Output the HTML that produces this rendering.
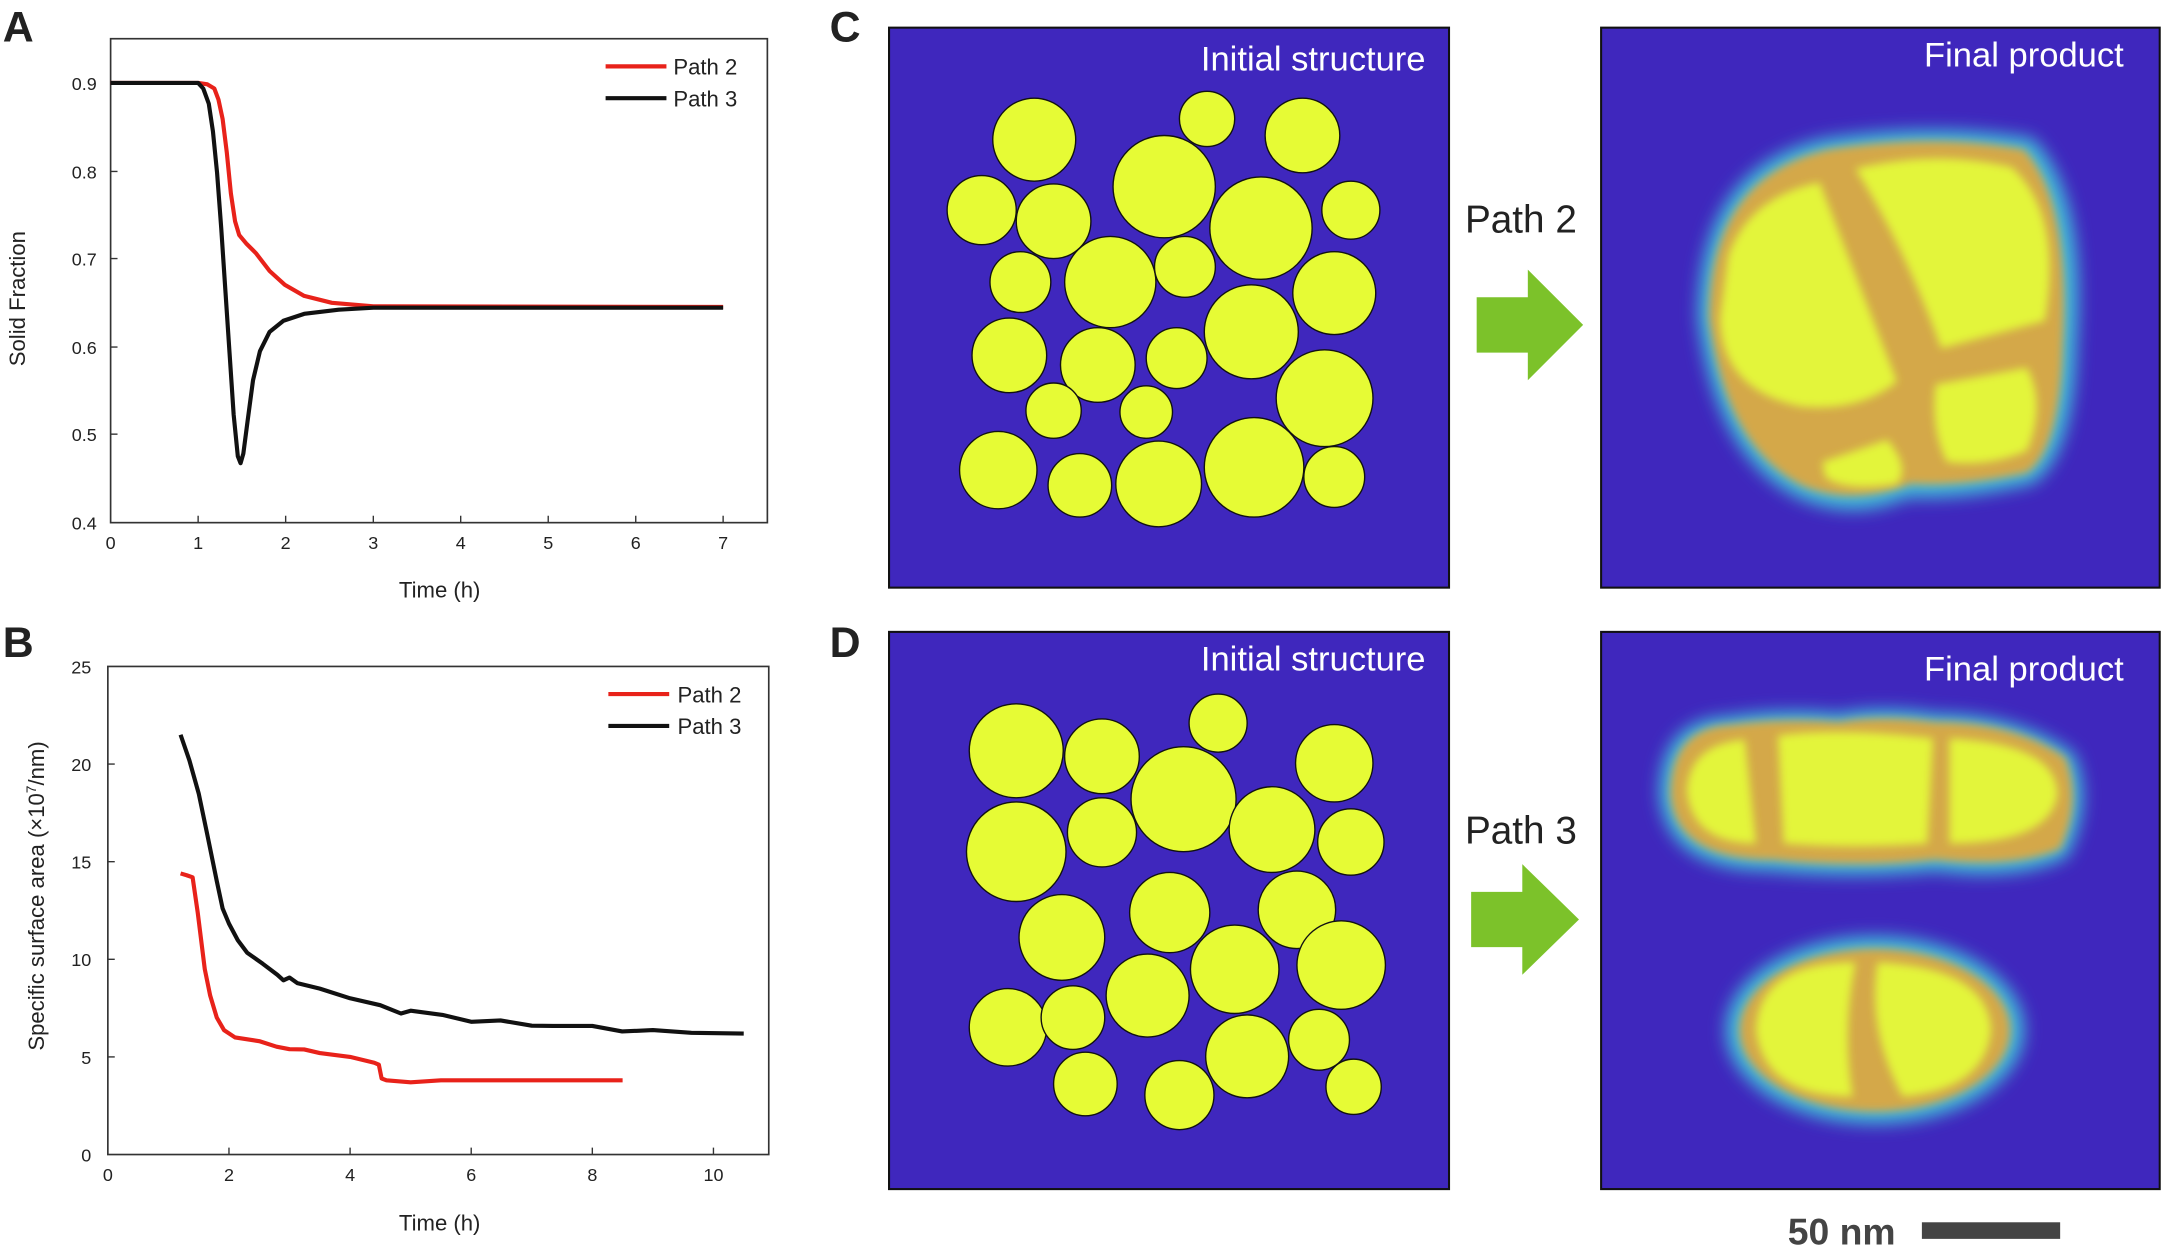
<!DOCTYPE html>
<html><head><meta charset="utf-8"><style>
html,body{margin:0;padding:0;background:#fff}
svg{display:block}
text{font-family:"Liberation Sans",sans-serif;fill:#222}
</style></head><body>
<svg width="2168" height="1248" viewBox="0 0 1568 902.6" preserveAspectRatio="none" xmlns="http://www.w3.org/2000/svg">
<defs>
<filter id="b6" x="-30%" y="-30%" width="160%" height="160%"><feGaussianBlur stdDeviation="6"/></filter>
<filter id="b3" x="-30%" y="-30%" width="160%" height="160%"><feGaussianBlur stdDeviation="3"/></filter>
</defs>
<g font-weight="bold" font-size="31">
<text x="2" y="30">A</text><text x="2" y="475">B</text>
<text x="600" y="30">C</text><text x="600" y="475">D</text>
</g>
<!-- Panel A -->
<rect x="80" y="28" width="475" height="350" fill="none" stroke="#333" stroke-width="1.2"/>
<g stroke="#333" stroke-width="1">
<line x1="80" y1="60" x2="85" y2="60"/><line x1="80" y1="124" x2="85" y2="124"/><line x1="80" y1="187" x2="85" y2="187"/><line x1="80" y1="251" x2="85" y2="251"/><line x1="80" y1="314" x2="85" y2="314"/>
<line x1="143.3" y1="378" x2="143.3" y2="373"/><line x1="206.6" y1="378" x2="206.6" y2="373"/><line x1="270" y1="378" x2="270" y2="373"/><line x1="333.2" y1="378" x2="333.2" y2="373"/><line x1="396.5" y1="378" x2="396.5" y2="373"/><line x1="459.8" y1="378" x2="459.8" y2="373"/><line x1="523" y1="378" x2="523" y2="373"/>
</g>
<g font-size="13" text-anchor="end">
<text x="70" y="65">0.9</text><text x="70" y="129">0.8</text><text x="70" y="192">0.7</text><text x="70" y="256">0.6</text><text x="70" y="319">0.5</text><text x="70" y="383">0.4</text>
</g>
<g font-size="13" text-anchor="middle">
<text x="80" y="397">0</text><text x="143.3" y="397">1</text><text x="206.6" y="397">2</text><text x="270" y="397">3</text><text x="333.2" y="397">4</text><text x="396.5" y="397">5</text><text x="459.8" y="397">6</text><text x="523" y="397">7</text>
</g>
<text x="318" y="432" font-size="16" text-anchor="middle">Time (h)</text>
<text transform="translate(18,216) rotate(-90)" font-size="16" text-anchor="middle">Solid Fraction</text>
<polyline fill="none" stroke="#e8221a" stroke-width="3" stroke-linejoin="round" points="80,60 143.3,60 150,61 155,64 158,72 161,86 164,110 167,140 170,160 173,170 178,176 185,183 195,196 206,206 220,214 240,219 270,221.5 523,222"/>
<polyline fill="none" stroke="#111" stroke-width="3" stroke-linejoin="round" points="80,60 143.3,60 147,64 151,75 154,95 157,125 160,165 163,210 166,255 169,300 172,330 174,335 176,328 179,305 183,275 188,254 195,240 205,232 220,227 245,224 270,222.5 523,222.5"/>
<line x1="438" y1="48" x2="482" y2="48" stroke="#e8221a" stroke-width="3"/>
<line x1="438" y1="71" x2="482" y2="71" stroke="#111" stroke-width="3"/>
<text x="487" y="54" font-size="16">Path 2</text><text x="487" y="77" font-size="16">Path 3</text>
<!-- Panel B -->
<rect x="78" y="482" width="478" height="353" fill="none" stroke="#333" stroke-width="1.2"/>
<g stroke="#333" stroke-width="1">
<line x1="78" y1="552.6" x2="83" y2="552.6"/><line x1="78" y1="623.2" x2="83" y2="623.2"/><line x1="78" y1="693.8" x2="83" y2="693.8"/><line x1="78" y1="764.4" x2="83" y2="764.4"/>
<line x1="165.6" y1="835" x2="165.6" y2="830"/><line x1="253.2" y1="835" x2="253.2" y2="830"/><line x1="340.8" y1="835" x2="340.8" y2="830"/><line x1="428.4" y1="835" x2="428.4" y2="830"/><line x1="516" y1="835" x2="516" y2="830"/>
</g>
<g font-size="13" text-anchor="end">
<text x="66" y="487">25</text><text x="66" y="557.6">20</text><text x="66" y="628.2">15</text><text x="66" y="698.8">10</text><text x="66" y="769.4">5</text><text x="66" y="840">0</text>
</g>
<g font-size="13" text-anchor="middle">
<text x="78" y="854">0</text><text x="165.6" y="854">2</text><text x="253.2" y="854">4</text><text x="340.8" y="854">6</text><text x="428.4" y="854">8</text><text x="516" y="854">10</text>
</g>
<text x="318" y="890" font-size="16" text-anchor="middle">Time (h)</text>
<text transform="translate(32,648) rotate(-90)" font-size="16" text-anchor="middle">Specific surface area (×10<tspan baseline-shift="super" font-size="10">7</tspan>/nm)</text>
<polyline fill="none" stroke="#111" stroke-width="3" stroke-linejoin="round" points="130.6,531.4 137,550 143.7,573.8 150,604 156.8,637.3 161,657 165.6,668 172,680 178.7,689 190,697 200.6,705 205,709 209.4,707 215,711 231.3,715 253.2,722 275,727 290,733 297,731 320,734 340.8,739 362,738 384.6,741.8 400,742 428.4,742 450,746 472.2,745 500,747 537.9,747.5"/>
<polyline fill="none" stroke="#e8221a" stroke-width="3" stroke-linejoin="round" points="130.6,631.7 135,633 139.3,634.5 143,660 148.1,700.9 152,720 156.8,736 162,745 170,750.3 187.5,753 200,757 209.4,758.8 220,759 231.3,761.6 253.2,764.4 270.7,768.6 274,770 276,780 279.5,781.3 297,782.8 318.9,781.3 362.7,781.3 450.3,781.3"/>
<line x1="440" y1="502" x2="484" y2="502" stroke="#e8221a" stroke-width="3"/>
<line x1="440" y1="525" x2="484" y2="525" stroke="#111" stroke-width="3"/>
<text x="490" y="508" font-size="16">Path 2</text><text x="490" y="531" font-size="16">Path 3</text>
<!-- Panel C initial -->
<rect x="643" y="20" width="405" height="405" fill="#3f27bd" stroke="#111" stroke-width="1.5"/>
<g fill="#e6fb35" stroke="#111" stroke-width="1">
<circle cx="748" cy="101" r="30"/><circle cx="873" cy="86" r="20"/><circle cx="942" cy="98" r="27"/><circle cx="710" cy="152" r="25"/><circle cx="762" cy="160" r="27"/><circle cx="842" cy="135" r="37"/><circle cx="912" cy="165" r="37"/><circle cx="977" cy="152" r="21"/><circle cx="738" cy="204" r="22"/><circle cx="803" cy="204" r="33"/><circle cx="857" cy="193" r="22"/><circle cx="965" cy="212" r="30"/><circle cx="730" cy="257" r="27"/><circle cx="794" cy="264" r="27"/><circle cx="851" cy="259" r="22"/><circle cx="905" cy="240" r="34"/><circle cx="958" cy="288" r="35"/><circle cx="762" cy="297" r="20"/><circle cx="829" cy="298" r="19"/><circle cx="722" cy="340" r="28"/><circle cx="781" cy="351" r="23"/><circle cx="838" cy="350" r="31"/><circle cx="907" cy="338" r="36"/><circle cx="965" cy="345" r="22"/>
</g>
<text x="1031" y="51" font-size="25" style="fill:#fff" text-anchor="end">Initial structure</text>
<!-- Panel C final -->
<rect x="1158" y="20" width="404" height="405" fill="#3f27bd" stroke="#111" stroke-width="1.5"/>
<g filter="url(#b6)" fill="#3fb8d8">
<path d="M1228,230 Q1228,120 1320,100 Q1400,88 1470,100 Q1510,140 1502,250 Q1500,330 1470,350 Q1420,362 1380,360 Q1340,378 1300,360 Q1240,330 1228,230 Z"/>
</g>
<g filter="url(#b3)" fill="#d4a848">
<path d="M1236,230 Q1236,128 1322,108 Q1400,96 1464,108 Q1498,145 1492,250 Q1490,325 1466,342 Q1420,352 1382,350 Q1340,366 1305,352 Q1248,325 1236,230 Z"/>
</g>
<g filter="url(#b3)" fill="#e3f53a">
<path d="M1250,185 Q1265,142 1316,132 L1372,276 Q1345,298 1302,294 Q1245,282 1244,230 Z"/>
<path d="M1342,122 Q1400,108 1455,121 Q1492,155 1479,232 L1404,252 Q1378,180 1342,122 Z"/>
<path d="M1400,278 L1466,266 Q1480,292 1466,326 Q1438,338 1408,334 Q1396,310 1400,278 Z"/>
<path d="M1318,334 L1365,318 Q1382,338 1372,350 Q1335,356 1320,345 Z"/>
</g>
<text x="1536" y="48" font-size="25" style="fill:#fff" text-anchor="end">Final product</text>
<!-- Panel D initial -->
<rect x="643" y="457" width="405" height="403" fill="#3f27bd" stroke="#111" stroke-width="1.5"/>
<g fill="#e6fb35" stroke="#111" stroke-width="1">
<circle cx="735" cy="543" r="34"/><circle cx="797" cy="547" r="27"/><circle cx="881" cy="523" r="21"/><circle cx="856" cy="578" r="38"/><circle cx="965" cy="552" r="28"/><circle cx="735" cy="616" r="36"/><circle cx="797" cy="602" r="25"/><circle cx="920" cy="600" r="31"/><circle cx="977" cy="609" r="24"/><circle cx="768" cy="678" r="31"/><circle cx="846" cy="660" r="29"/><circle cx="938" cy="658" r="28"/><circle cx="970" cy="698" r="32"/><circle cx="729" cy="743" r="28"/><circle cx="776" cy="736" r="23"/><circle cx="830" cy="720" r="30"/><circle cx="893" cy="701" r="32"/><circle cx="785" cy="784" r="23"/><circle cx="853" cy="792" r="25"/><circle cx="902" cy="764" r="30"/><circle cx="954" cy="752" r="22"/><circle cx="979" cy="786" r="20"/>
</g>
<text x="1031" y="485" font-size="25" style="fill:#fff" text-anchor="end">Initial structure</text>
<!-- Panel D final -->
<rect x="1158" y="457" width="404" height="403" fill="#3f27bd" stroke="#111" stroke-width="1.5"/>
<g filter="url(#b6)" fill="#3fb8d8">
<path d="M1200,575 Q1200,520 1250,518 Q1290,512 1330,516 Q1360,510 1400,516 Q1460,516 1500,545 Q1515,580 1495,620 Q1460,638 1400,630 Q1340,636 1280,630 Q1205,630 1200,575 Z"/>
<ellipse cx="1356" cy="745" rx="108" ry="68"/>
</g>
<g filter="url(#b3)" fill="#d4a848">
<path d="M1208,575 Q1208,526 1252,524 Q1290,519 1330,522 Q1360,517 1400,522 Q1458,522 1494,548 Q1506,580 1490,614 Q1458,628 1400,622 Q1340,628 1282,622 Q1212,622 1208,575 Z"/>
<ellipse cx="1356" cy="745" rx="98" ry="59"/>
</g>
<g filter="url(#b3)" fill="#e3f53a">
<path d="M1220,572 Q1222,538 1262,535 L1270,610 Q1224,610 1220,572 Z"/>
<path d="M1286,532 Q1330,526 1398,534 L1394,610 Q1340,614 1290,610 Z"/>
<path d="M1410,534 Q1488,538 1488,575 Q1482,610 1410,610 Z"/>
<path d="M1342,696 Q1272,696 1270,745 Q1276,793 1340,793 Q1332,745 1342,696 Z"/>
<path d="M1358,696 Q1438,700 1440,745 Q1436,788 1376,793 Q1350,745 1358,696 Z"/>
</g>
<text x="1536" y="492" font-size="25" style="fill:#fff" text-anchor="end">Final product</text>
<!-- Arrows -->
<polygon points="1068,215 1105,215 1105,195 1145,235 1105,275 1105,255 1068,255" fill="#7cc22a"/>
<polygon points="1064,645 1101,645 1101,625 1142,665 1101,705 1101,685 1064,685" fill="#7cc22a"/>
<text x="1100" y="168" font-size="28" text-anchor="middle">Path 2</text>
<text x="1100" y="610" font-size="28" text-anchor="middle">Path 3</text>
<text x="1332" y="900" font-size="27" font-weight="bold" text-anchor="middle" style="fill:#444">50 nm</text>
<rect x="1390" y="884" width="100" height="12" fill="#444"/>
</svg>
</body></html>
